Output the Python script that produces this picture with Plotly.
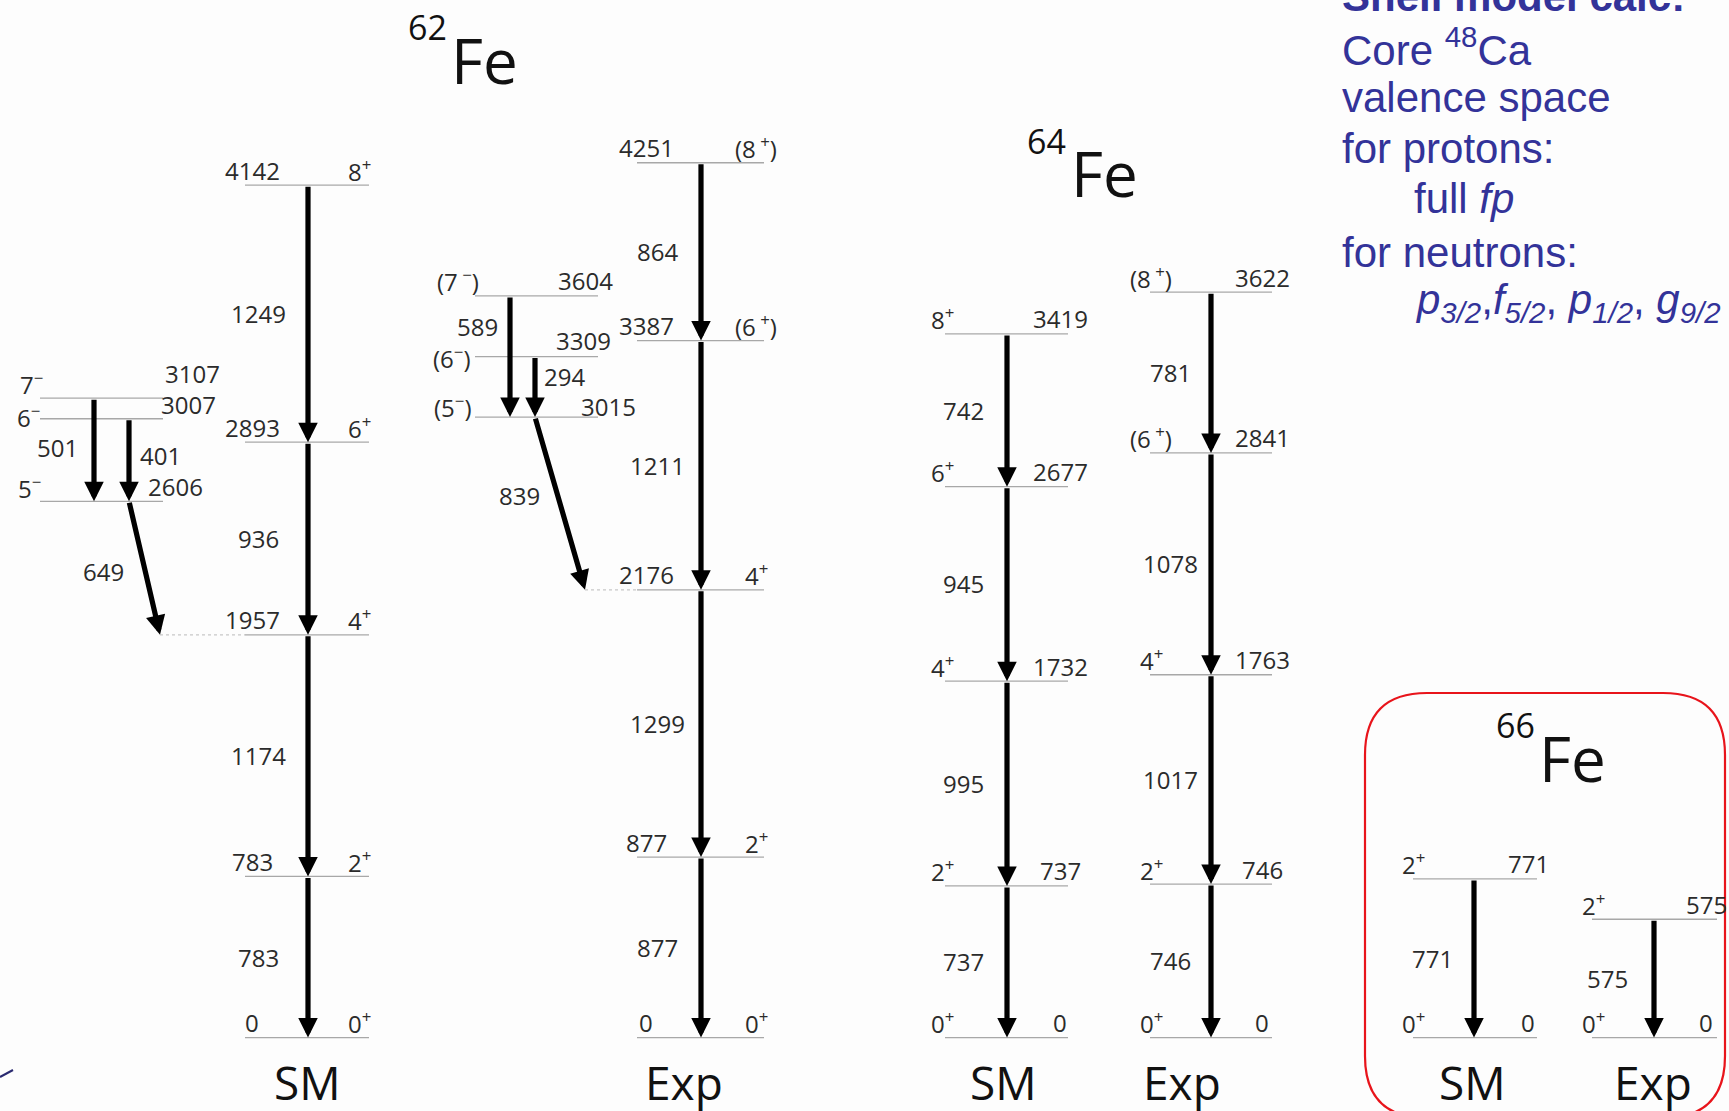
import plotly.graph_objects as go

# ------------------------------------------------------------------ data
# 62Fe shell model: yrast band (keV), spins, gamma energies (upper -> lower)
fe62_sm_levels = [0, 783, 1957, 2893, 4142]
fe62_sm_spins = ["0<sup>+</sup>", "2<sup>+</sup>", "4<sup>+</sup>", "6<sup>+</sup>", "8<sup>+</sup>"]
fe62_sm_gammas = [783, 1174, 936, 1249]
# 62Fe shell model: negative parity side band
fe62_sm_side_levels = [2606, 3007, 3107]
fe62_sm_side_spins = ["5<sup>\u2212</sup>", "6<sup>\u2212</sup>", "7<sup>\u2212</sup>"]
fe62_sm_side_gammas = [501, 401, 649]
fe62_sm_side_from = [3107, 3007, 2606]
fe62_sm_side_to = [2606, 2606, 1957]

# 62Fe experiment
fe62_exp_levels = [0, 877, 2176, 3387, 4251]
fe62_exp_spins = ["0<sup>+</sup>", "2<sup>+</sup>", "4<sup>+</sup>", "(6<sup> +</sup>)", "(8<sup> +</sup>)"]
fe62_exp_gammas = [877, 1299, 1211, 864]
fe62_exp_side_levels = [3015, 3309, 3604]
fe62_exp_side_spins = ["(5<sup>\u2212</sup>)", "(6<sup>\u2212</sup>)", "(7<sup> \u2212</sup>)"]
fe62_exp_side_gammas = [589, 294, 839]
fe62_exp_side_from = [3604, 3309, 3015]
fe62_exp_side_to = [3015, 3015, 2176]

# 64Fe
fe64_sm_levels = [0, 737, 1732, 2677, 3419]
fe64_sm_spins = ["0<sup>+</sup>", "2<sup>+</sup>", "4<sup>+</sup>", "6<sup>+</sup>", "8<sup>+</sup>"]
fe64_sm_gammas = [737, 995, 945, 742]
fe64_exp_levels = [0, 746, 1763, 2841, 3622]
fe64_exp_spins = ["0<sup>+</sup>", "2<sup>+</sup>", "4<sup>+</sup>", "(6<sup> +</sup>)", "(8<sup> +</sup>)"]
fe64_exp_gammas = [746, 1017, 1078, 781]

# 66Fe
fe66_sm_levels = [0, 771]
fe66_sm_spins = ["0<sup>+</sup>", "2<sup>+</sup>"]
fe66_sm_gammas = [771]
fe66_exp_levels = [0, 575]
fe66_exp_spins = ["0<sup>+</sup>", "2<sup>+</sup>"]
fe66_exp_gammas = [575]

column_labels = ["SM", "Exp", "SM", "Exp", "SM", "Exp"]

# ------------------------------------------------------------------ layout / style
W, H = 1729, 1111
E_RANGE = [-356.7, 5041.8]
FONT = "Open Sans, Noto Sans, DejaVu Sans, sans-serif"
TXT = "#2b2b2b"
LEVEL_COLOR = "#a8a8a8"
BLUE = "#333399"

# per column: arrow x, level line x0/x1, energy-label x, spin-label x, gamma-label x
cols = {
    "fe62_sm":  dict(ax=308,  x0=245,  x1=369,  ex=252,  sx=359,  gx=258),
    "fe62_exp": dict(ax=701,  x0=637,  x1=764,  ex=646,  sx=756,  gx=657),
    "fe64_sm":  dict(ax=1007, x0=945,  x1=1068, ex=1060, sx=942,  gx=963),
    "fe64_exp": dict(ax=1211, x0=1150, x1=1272, ex=1262, sx=1151, gx=1170),
    "fe66_sm":  dict(ax=1474, x0=1413, x1=1537, ex=1528, sx=1413, gx=1432),
    "fe66_exp": dict(ax=1654, x0=1592, x1=1717, ex=1706, sx=1593, gx=1607),
}
col_label_x = [307, 684, 1003, 1182, 1472, 1653]


def py(p):  # pixel row -> paper y
    return 1 - p / H


fig = go.Figure()


def text(x, y, s, size=24, color=TXT, xref="x", yref="y", yshift=0,
         xanchor="center", yanchor="middle", family=FONT):
    fig.add_annotation(x=x, y=y, text=s, showarrow=False, xref=xref, yref=yref,
                       yshift=yshift, xanchor=xanchor, yanchor=yanchor,
                       font=dict(size=size, color=color, family=family))


def arrow(x_from, e_from, x_to, e_to):
    fig.add_annotation(x=x_to, y=e_to, ax=x_from, ay=e_from, xref="x", yref="y",
                       axref="x", ayref="y", text="", showarrow=True,
                       arrowhead=2, arrowsize=0.75, arrowwidth=5.2, arrowcolor="#000",
                       standoff=0, startstandoff=0)


def level_lines(x0, x1, levels):
    xs, ys = [], []
    for e in levels:
        xs += [x0, x1, None]
        ys += [e, e, None]
    fig.add_trace(go.Scatter(x=xs, y=ys, mode="lines", hoverinfo="skip",
                             line=dict(color=LEVEL_COLOR, width=1.3)))


def band(levels, spins, gammas, c):
    level_lines(c["x0"], c["x1"], levels)
    for e, s in zip(levels, spins):
        text(c["ex"], e, str(e), yshift=15)
        text(c["sx"], e, s, yshift=15)
    for i, g in enumerate(gammas):
        arrow(c["ax"], levels[i + 1], c["ax"], levels[i])
        text(c["gx"], (levels[i] + levels[i + 1]) / 2, str(g))


band(fe62_sm_levels, fe62_sm_spins, fe62_sm_gammas, cols["fe62_sm"])
band(fe62_exp_levels, fe62_exp_spins, fe62_exp_gammas, cols["fe62_exp"])
band(fe64_sm_levels, fe64_sm_spins, fe64_sm_gammas, cols["fe64_sm"])
band(fe64_exp_levels, fe64_exp_spins, fe64_exp_gammas, cols["fe64_exp"])
band(fe66_sm_levels, fe66_sm_spins, fe66_sm_gammas, cols["fe66_sm"])
band(fe66_exp_levels, fe66_exp_spins, fe66_exp_gammas, cols["fe66_exp"])

# ---- 62Fe SM side band
level_lines(40, 163, fe62_sm_side_levels)
side_sm_spin_pos = [(29, 14), (28, 2), (31, 15)]
side_sm_e_pos = [(175, 15), (188, 14), (192, 25)]
for e, s, sp, ep in zip(fe62_sm_side_levels, fe62_sm_side_spins, side_sm_spin_pos, side_sm_e_pos):
    text(sp[0], e, s, yshift=sp[1])
    text(ep[0], e, str(e), yshift=ep[1])
side_sm_arrow_x = [(94, 94), (129, 129), (129, 160)]
side_sm_g_pos = [(57, 2), (160, 5), (103, -3)]
for g, ef, et, axp, gp in zip(fe62_sm_side_gammas, fe62_sm_side_from, fe62_sm_side_to,
                              side_sm_arrow_x, side_sm_g_pos):
    arrow(axp[0], ef, axp[1], et)
    text(gp[0], (ef + et) / 2, str(g), yshift=gp[1])
fig.add_trace(go.Scatter(x=[160, 245], y=[fe62_sm_side_to[2]] * 2, mode="lines",
                         hoverinfo="skip", line=dict(color="#c8c8c8", width=1.3, dash="dot")))

# ---- 62Fe Exp side band
level_lines(475, 598, fe62_exp_side_levels)
side_exp_spin_pos = [(453, 11), (452, -1), (458, 15)]
side_exp_e_pos = [(608, 11), (583, 16), (585, 15)]
for e, s, sp, ep in zip(fe62_exp_side_levels, fe62_exp_side_spins, side_exp_spin_pos, side_exp_e_pos):
    text(sp[0], e, s, yshift=sp[1])
    text(ep[0], e, str(e), yshift=ep[1])
side_exp_arrow_x = [(510, 510), (535, 535), (535, 585)]
side_exp_g_pos = [(477, 30), (564, 10), (519, 8)]
for g, ef, et, axp, gp in zip(fe62_exp_side_gammas, fe62_exp_side_from, fe62_exp_side_to,
                              side_exp_arrow_x, side_exp_g_pos):
    arrow(axp[0], ef, axp[1], et)
    text(gp[0], (ef + et) / 2, str(g), yshift=gp[1])
fig.add_trace(go.Scatter(x=[585, 637], y=[fe62_exp_side_to[2]] * 2, mode="lines",
                         hoverinfo="skip", line=dict(color="#c8c8c8", width=1.3, dash="dot")))

# ---- column labels
for lab, x in zip(column_labels, col_label_x):
    text(x, py(1082), lab, size=46, color="#111", yref="paper")

# ---- nucleus titles
for mass, xm, ym, xf, yf in [("62", 427, 27, 484, 60), ("64", 1046, 141, 1104, 173),
                             ("66", 1515, 725, 1572, 758)]:
    text(xm, py(ym), mass, size=34, color="#111", yref="paper")
    text(xf, py(yf), "Fe", size=62, color="#111", yref="paper")

# ---- red box around 66Fe
x0b, x1b, ytb, ybb, r = 1365, 1725, py(693), py(1118), 62
ry = r / H
path = (f"M {x0b + r},{ytb} L {x1b - r},{ytb} Q {x1b},{ytb} {x1b},{ytb - ry} "
        f"L {x1b},{ybb + ry} Q {x1b},{ybb} {x1b - r},{ybb} "
        f"L {x0b + r},{ybb} Q {x0b},{ybb} {x0b},{ybb + ry} "
        f"L {x0b},{ytb - ry} Q {x0b},{ytb} {x0b + r},{ytb} Z")
fig.add_shape(type="path", path=path, xref="x", yref="paper",
              line=dict(color="#e8141b", width=2.2))

# ---- small stroke at lower-left
fig.add_shape(type="line", x0=0, x1=13, y0=py(1077), y1=py(1070), xref="x", yref="paper",
              line=dict(color="#2a2a70", width=2))

# ---- shell model info text
BF = "Liberation Sans, Arial, sans-serif"
info = [
    (1340, -4, "<b>Shell model calc:</b>"),
    (1340, 47, "Core <sup>48</sup>Ca"),
    (1340, 97, "valence space"),
    (1340, 149, "for protons:"),
    (1412, 199, "full <i>fp</i>"),
    (1340, 252, "for neutrons:"),
    (1413, 302, "<i>p</i><sub><i>3/2</i></sub>,<i>f</i><sub><i>5/2</i></sub>, "
                "<i>p</i><sub><i>1/2</i></sub>, <i>g</i><sub><i>9/2</i></sub>"),
]
for x, y, s in info:
    text(x, py(y), s, size=42, color=BLUE, yref="paper", xanchor="left", family=BF)

fig.update_layout(
    width=W, height=H, autosize=False,
    margin=dict(l=0, r=0, t=0, b=0),
    paper_bgcolor="#fdfdfd", plot_bgcolor="#fdfdfd",
    showlegend=False,
    xaxis=dict(range=[0, W], visible=False, fixedrange=True),
    yaxis=dict(range=E_RANGE, visible=False, fixedrange=True),
)

fig.write_html("out.html")
